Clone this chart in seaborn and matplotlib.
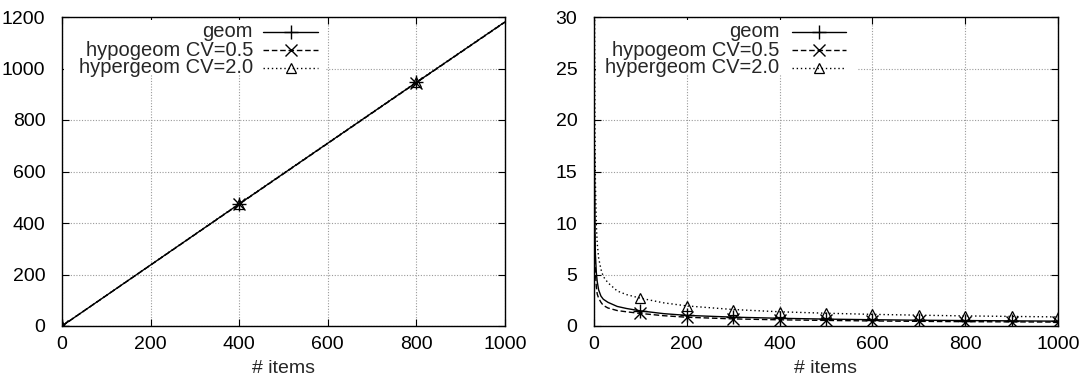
import numpy as np
import matplotlib
matplotlib.use("Agg")
import matplotlib.pyplot as plt
import seaborn as sns
from matplotlib.patches import Rectangle

# left panel: values vs # items
left_x = [0, 400, 800, 1000]
left_geom = [0, 474, 946, 1181]
left_hypo = [0, 473, 945, 1180]
left_hyper = [0, 475, 947, 1182]
left_marks = [0, 400, 800]

# right panel
right_x = [1, 2, 3, 5, 7, 10, 15, 20, 30, 50, 70, 100, 150, 200, 300, 400, 500, 600, 700, 800, 900, 1000]
right_geom = [17, 9.5, 7.0, 5.2, 4.3, 3.5, 2.9, 2.6, 2.3, 1.9, 1.7, 1.47, 1.2, 1.03, 0.86, 0.75, 0.67, 0.61, 0.56, 0.53, 0.5, 0.47]
right_hypo = [13, 7.2, 5.2, 3.8, 3.1, 2.7, 2.3, 2.0, 1.75, 1.5, 1.38, 1.22, 1.0, 0.85, 0.69, 0.6, 0.54, 0.49, 0.45, 0.42, 0.4, 0.38]
right_hyper = [34, 20, 14, 9.8, 8.0, 6.6, 5.5, 4.8, 4.2, 3.4, 3.05, 2.7, 2.25, 1.95, 1.6, 1.38, 1.24, 1.13, 1.05, 0.98, 0.93, 0.88]
right_marks = [100, 200, 300, 400, 500, 600, 700, 800, 900, 1000]

labels = ["geom", "hypogeom CV=0.5", "hypergeom CV=2.0"]
styles = [dict(ls="-", marker="+", ms=10, mew=1.0),
          dict(ls=(0, (4, 2)), marker="x", ms=8, mew=1.0),
          dict(ls=(0, (1, 2)), marker="^", ms=7, mew=0.9, mfc="none")]

sns.set_style("ticks")
plt.rcParams["font.family"] = ["Liberation Sans", "DejaVu Sans"]
plt.rcParams["font.size"] = 14

fig = plt.figure(figsize=(10.91, 3.83), dpi=100)
ax1 = fig.add_axes([62 / 1091, 57 / 383, 443 / 1091, 309 / 383])
ax2 = fig.add_axes([594 / 1091, 57 / 383, 464 / 1091, 309 / 383])


def draw(ax, x, series, marks, ylim, yticks, leg_pos, box_right):
    x = np.array(x)
    for ys, lab, st in zip(series, labels, styles):
        every = np.isin(x, marks)
        sns.lineplot(x=x, y=ys, ax=ax, color="black", lw=1.0, markevery=list(every),
                     mec="black", zorder=3, **st)
    ax.set_xlim(0, 1000)
    ax.set_ylim(*ylim)
    ax.set_xticks(range(0, 1001, 200))
    ax.set_yticks(yticks)
    ax.grid(True, color="#9a9a9a", ls=(0, (1, 1.5)), lw=0.8)
    ax.set_axisbelow(True)
    ax.tick_params(direction="in", top=True, right=True, length=5, width=0.8,
                   labelsize=14, colors="black")
    ax.tick_params(axis="y", pad=12)
    ax.tick_params(axis="x", pad=7)
    for s in ax.spines.values():
        s.set_color("black")
        s.set_linewidth(1.0)
    ax.set_xlabel("# items", fontsize=14, labelpad=5)
    ax.set_ylabel("")
    # legend box (gnuplot style key)
    ax.add_patch(Rectangle((0.005, 0.815), box_right - 0.005, 0.175, transform=ax.transAxes,
                           facecolor="white", edgecolor="none", zorder=2))
    tx, l0, l1 = leg_pos
    rows = [0.952, 0.892, 0.835]
    for yy, lab, st in zip(rows, labels, styles):
        ax.text(tx, yy, lab, transform=ax.transAxes, ha="right", va="center",
                fontsize=14.5, zorder=4)
        ax.plot([l0, (l0 + l1) / 2, l1], [yy, yy, yy], transform=ax.transAxes,
                color="black", lw=1.0, markevery=[1], mec="black", zorder=4,
                clip_on=False, **st)


draw(ax1, left_x, [left_geom, left_hypo, left_hyper], left_marks, (0, 1200),
     range(0, 1201, 200), (0.431, 0.454, 0.578), 0.597)
draw(ax2, right_x, [right_geom, right_hypo, right_hyper], right_marks, (0, 30),
     range(0, 31, 5), (0.40, 0.427, 0.543), 0.568)

fig.savefig("out.png", dpi=100)
